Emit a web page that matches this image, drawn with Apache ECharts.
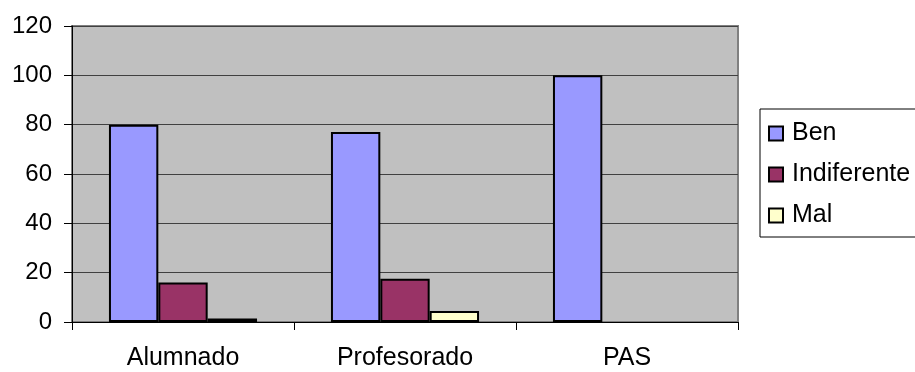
<!DOCTYPE html>
<html>
<head>
<meta charset="utf-8">
<script src="https://cdn.jsdelivr.net/npm/echarts@6/dist/echarts.min.js"></script>
<style>
  html, body { margin: 0; padding: 0; background: #ffffff; }
  #chart { width: 915px; height: 372px; }
</style>
</head>
<body>
<div id="chart"></div>
<script>
// Categories and series values
const categories = ['Alumnado', 'Profesorado', 'PAS'];
const seriesNames = ['Ben', 'Indiferente', 'Mal'];
const benValues = [80, 77, 100];
const indiferenteValues = [16, 17.5, 0];
const malValues = [1.4, 4.5, 0];
const yTicks = [0, 20, 40, 60, 80, 100, 120];

const seriesColors = ['#9999ff', '#993366', '#ffffcc'];
const seriesData = [benValues, indiferenteValues, malValues];
const FONT = '"Liberation Sans", Arial, sans-serif';

// Zero-height bars get no outline so they leave no mark on the axis
const toBarData = values => values.map(v =>
  v === 0 ? { value: v, itemStyle: { borderWidth: 0 } } : v);

const chart = echarts.init(document.getElementById('chart'), null, { renderer: 'canvas' });

chart.setOption({
  animation: false,
  backgroundColor: '#ffffff',
  textStyle: { fontFamily: FONT },
  grid: {
    left: 72, top: 26, width: 666, height: 296,
    show: true,
    backgroundColor: '#c0c0c0',
    borderColor: '#808080',
    borderWidth: 2
  },
  legend: {
    orient: 'vertical',
    left: 760, top: 109,
    padding: [12, 12, 9, 8],
    itemGap: 16,
    itemWidth: 14, itemHeight: 14,
    borderColor: '#000000',
    borderWidth: 1,
    textStyle: { fontFamily: FONT, fontSize: 25, color: '#000000', padding: [0, 0, 0, 4] },
    data: seriesNames.map(n => ({ name: n, icon: 'rect' }))
  },
  xAxis: {
    type: 'category',
    data: categories,
    boundaryGap: true,
    axisLine: { lineStyle: { color: '#000000', width: 1 } },
    axisTick: { show: true, length: 8, lineStyle: { color: '#000000' } },
    axisLabel: { fontFamily: FONT, fontSize: 25, color: '#000000', margin: 24 },
    splitLine: { show: false }
  },
  yAxis: {
    type: 'value',
    min: yTicks[0], max: yTicks[yTicks.length - 1], interval: 20,
    axisLine: { show: true, lineStyle: { color: '#000000', width: 1 } },
    axisTick: { show: true, length: 8, lineStyle: { color: '#000000' } },
    axisLabel: { fontFamily: FONT, fontSize: 24, color: '#000000', margin: 20 },
    splitLine: { show: true, lineStyle: { color: '#404040', width: 1 } }
  },
  series: seriesNames.map((name, i) => ({
    name: name,
    type: 'bar',
    data: toBarData(seriesData[i]),
    barGap: '0%',
    barCategoryGap: '33.3%',
    itemStyle: { color: seriesColors[i], borderColor: '#000000', borderWidth: 2 },
    emphasis: { disabled: true }
  }))
});
</script>
</body>
</html>
